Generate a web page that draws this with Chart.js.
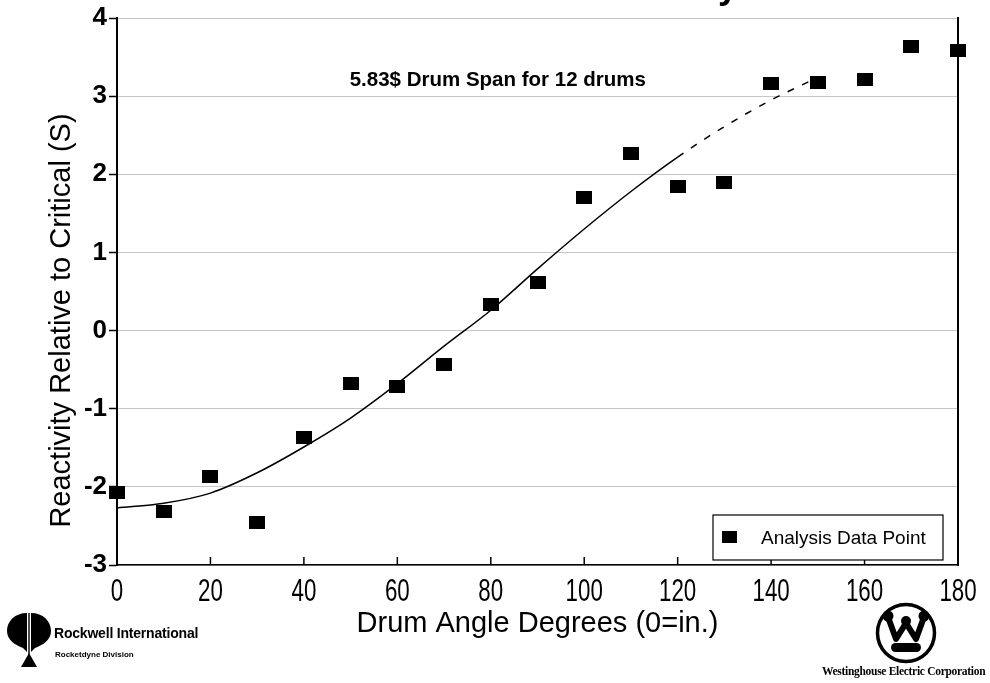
<!DOCTYPE html>
<html>
<head>
<meta charset="utf-8">
<title>Drum Worth Survey</title>
<script src="https://cdn.jsdelivr.net/npm/chart.js@4.4.1/dist/chart.umd.min.js"></script>
<style>
  body { margin: 0; background: #fff; }
  #wrap { position: relative; width: 990px; height: 683px; overflow: hidden; font-family: "Liberation Sans", Arial, sans-serif; }
  #plot { position: absolute; left: 0; top: 0; }
  .title { position: absolute; right: 252px; top: -32px; font: bold 36px/36px "Liberation Sans", Arial, sans-serif; white-space: nowrap; }
  .rockwell { position: absolute; left: 6px; top: 611px; }
  .rw-name { position: absolute; left: 54px; top: 625px; font: bold 14px/16px "Liberation Sans", Arial, sans-serif; letter-spacing: -0.2px; white-space: nowrap; }
  .rw-div { position: absolute; left: 55px; top: 650px; font: bold 8px/9px "Liberation Sans", Arial, sans-serif; white-space: nowrap; }
  .westing { position: absolute; left: 874px; top: 601px; }
  .wh-name { position: absolute; left: 822px; top: 665px; font: bold 11.5px/12px "Liberation Serif", "Times New Roman", serif; white-space: nowrap; letter-spacing: -0.3px; }
</style>
</head>
<body>
<div id="wrap">
  <canvas id="plot" width="990" height="683"></canvas>
  <div class="title">Drum Worth Survey</div>

  <svg class="rockwell" width="46" height="58" viewBox="0 0 46 58">
    <path d="M21,2 C9,2 1,10 1,20 C1,29 9,34 17,37 L21,41 Z" fill="#000"/>
    <path d="M25,2 C37,2 45,10 45,20 C45,29 37,34 29,37 L25,41 Z" fill="#000"/>
    <line x1="23" y1="2" x2="23" y2="44" stroke="#000" stroke-width="1.4"/>
    <path d="M23,42 L31,56 L15,56 Z" fill="#000"/>
  </svg>
  <div class="rw-name">Rockwell International</div>
  <div class="rw-div">Rocketdyne Division</div>

  <svg class="westing" width="64" height="64" viewBox="0 0 64 64">
    <circle cx="32" cy="32" r="28.5" fill="none" stroke="#000" stroke-width="3.5"/>
    <path d="M14,16 L22,38 L32,22 L42,38 L50,16" fill="none" stroke="#000" stroke-width="6" stroke-linejoin="round"/>
    <circle cx="14" cy="15" r="5.5" fill="#000"/>
    <circle cx="32" cy="20" r="5" fill="#000"/>
    <circle cx="50" cy="15" r="5.5" fill="#000"/>
    <rect x="17" y="42" width="30" height="9" rx="4.5" fill="#000"/>
  </svg>
  <div class="wh-name">Westinghouse Electric Corporation</div>
</div>

<script>
// measured reactivity at each drum angle
var angles = [0, 10, 20, 30, 40, 50, 60, 70, 80, 90, 100, 110, 120, 130, 140, 150, 160, 170, 180];
var reactivity = [-2.07, -2.31, -1.87, -2.45, -1.37, -0.68, -0.71, -0.43, 0.33, 0.61, 1.70, 2.26, 1.84, 1.89, 3.16, 3.17, 3.21, 3.64, 3.59];

// fitted worth curve
var fitAngles = [0, 10, 20, 30, 40, 50, 60, 70, 80, 90, 100, 110, 120, 130, 140, 150];
var fitReactivity = [-2.27, -2.21, -2.08, -1.82, -1.49, -1.12, -0.68, -0.20, 0.26, 0.79, 1.30, 1.78, 2.22, 2.61, 2.95, 3.24];

var noteText = '5.83$ Drum Span for 12 drums';
var noteAt = [81.5, 3.2];
var legendLabel = 'Analysis Data Point';
var yTitleText = 'Reactivity Relative to Critical (S)';

var FONT = '"Liberation Sans", Arial, sans-serif';

// filled square marker, a bit wider than tall
function squareMark(w, h) {
    var c = document.createElement('canvas');
    c.width = w;
    c.height = h;
    var g = c.getContext('2d');
    g.fillStyle = '#000';
    g.fillRect(0, 0, w, h);
    return c;
}
var mark = squareMark(16, 13);

// short ticks pointing up from the x axis, plus narrow tick numbers below it
var xAxisMarks = {
    id: 'xAxisMarks',
    afterDraw: function (chart) {
        var ctx = chart.ctx, x = chart.scales.x, bottom = chart.chartArea.bottom;
        ctx.save();
        ctx.strokeStyle = '#000';
        ctx.lineWidth = 1.5;
        ctx.fillStyle = '#000';
        ctx.font = '31px ' + FONT;
        ctx.textAlign = 'center';
        ctx.textBaseline = 'top';
        x.ticks.forEach(function (t) {
            var px = x.getPixelForValue(t.value);
            ctx.beginPath();
            ctx.moveTo(px, bottom);
            ctx.lineTo(px, bottom - 8);
            ctx.stroke();
            ctx.save();
            ctx.translate(px, bottom + 12);
            ctx.scale(0.72, 1);
            ctx.fillText(String(t.value), 0, 0);
            ctx.restore();
        });
        ctx.restore();
    }
};

var yTitle = {
    id: 'yTitle',
    afterDraw: function (chart) {
        var ctx = chart.ctx, a = chart.chartArea;
        ctx.save();
        ctx.translate(62, (a.top + a.bottom) / 2 + 29);
        ctx.rotate(-Math.PI / 2);
        ctx.font = '29px ' + FONT;
        ctx.fillStyle = '#000';
        ctx.textAlign = 'center';
        ctx.textBaseline = 'middle';
        ctx.fillText(yTitleText, 0, 0);
        ctx.restore();
    }
};

var note = {
    id: 'note',
    afterDraw: function (chart) {
        var ctx = chart.ctx;
        ctx.save();
        ctx.font = 'bold 20.5px ' + FONT;
        ctx.fillStyle = '#000';
        ctx.textAlign = 'center';
        ctx.textBaseline = 'middle';
        ctx.fillText(noteText, chart.scales.x.getPixelForValue(noteAt[0]), chart.scales.y.getPixelForValue(noteAt[1]));
        ctx.restore();
    }
};

// boxed legend in the lower right corner of the plot
var boxLegend = {
    id: 'boxLegend',
    afterDraw: function (chart) {
        var ctx = chart.ctx, a = chart.chartArea;
        var w = 230, h = 45;
        var right = a.right - 15, bottom = a.bottom - 5;
        var left = right - w, top = bottom - h;
        ctx.save();
        ctx.fillStyle = '#fff';
        ctx.fillRect(left, top, w, h);
        ctx.strokeStyle = '#000';
        ctx.lineWidth = 1.2;
        ctx.strokeRect(left, top, w, h);
        ctx.drawImage(mark, left + 9, top + h / 2 - 7, 15, 12);
        ctx.font = '19px ' + FONT;
        ctx.fillStyle = '#000';
        ctx.textBaseline = 'middle';
        ctx.fillText(legendLabel, left + 48, top + h / 2 + 1);
        ctx.restore();
    }
};

var points = angles.map(function (a, i) { return { x: a, y: reactivity[i] }; });
var fit = fitAngles.map(function (a, i) { return { x: a, y: fitReactivity[i] }; });

new Chart(document.getElementById('plot'), {
    type: 'scatter',
    data: {
        datasets: [
            {
                label: legendLabel,
                data: points,
                pointStyle: mark,
                pointRadius: 8,
                showLine: false,
                clip: false
            },
            {
                label: 'fit',
                type: 'line',
                data: fit,
                borderColor: '#000',
                borderWidth: 1.5,
                pointRadius: 0,
                cubicInterpolationMode: 'monotone',
                fill: false,
                // the upper end of the curve is broken up
                segment: {
                    borderDash: function (c) { return c.p0.parsed.x >= 120 ? [7, 9] : undefined; }
                }
            }
        ]
    },
    options: {
        responsive: false,
        animation: false,
        layout: { padding: { top: 18, right: 0, bottom: 0, left: 0 } },
        plugins: {
            legend: { display: false },
            tooltip: { enabled: false }
        },
        scales: {
            x: {
                type: 'linear',
                min: 0,
                max: 180,
                ticks: { stepSize: 20, display: false },
                grid: { drawOnChartArea: false, drawTicks: false },
                border: { color: '#000', width: 1.5 },
                title: {
                    display: true,
                    text: 'Drum Angle Degrees (0=in.)',
                    color: '#000',
                    font: { family: FONT, size: 29 },
                    padding: { top: 0, bottom: 42 }
                },
                afterFit: function (s) { s.height = 118; }
            },
            y: {
                min: -3,
                max: 4,
                ticks: {
                    stepSize: 1,
                    color: '#000',
                    padding: 2,
                    font: { family: FONT, size: 26, weight: 'bold' }
                },
                grid: {
                    color: '#c6c6c6',
                    lineWidth: 1,
                    borderDash: [4, 8],
                    tickColor: '#000',
                    tickBorderDash: [],
                    tickWidth: 1.5,
                    tickLength: 8
                },
                border: { color: '#000', width: 2 },
                afterFit: function (s) { s.width = 117; }
            },
            y2: {
                position: 'right',
                min: -3,
                max: 4,
                ticks: { display: false },
                grid: { drawOnChartArea: false, drawTicks: false },
                border: { color: '#000', width: 2 },
                afterFit: function (s) { s.width = 32; }
            }
        }
    },
    plugins: [xAxisMarks, yTitle, note, boxLegend]
});
</script>
</body>
</html>
